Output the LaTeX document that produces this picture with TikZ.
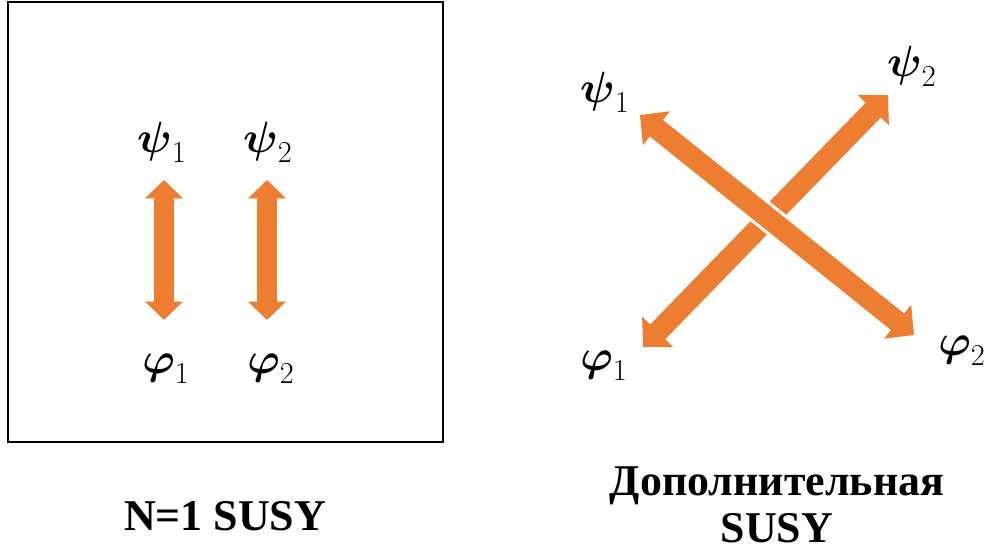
\documentclass[tikz,border=0pt]{standalone}
\usepackage{amsmath}
\usepackage{fontspec}
\setmainfont{Liberation Serif}
\usetikzlibrary{arrows.meta}
\definecolor{susyorange}{HTML}{ED7D31}

\begin{document}
\begin{tikzpicture}[x=0.02cm, y=-0.02cm,
		field/.style={font=\fontsize{25}{30}\selectfont},
		caption/.style={font=\fontsize{25}{27}\selectfont\bfseries, align=center},
		pair/.style={susyorange, line width=11pt,
			{Triangle[width=21pt,length=10.5pt]}-{Triangle[width=21pt,length=10.5pt]}},
		cross/.style={susyorange, line width=12pt,
			{Triangle[width=24pt,length=12pt]}-{Triangle[width=24pt,length=12pt]}}]
		\useasboundingbox (0, 0) rectangle (988, 550);

		% left panel: N=1
		\draw[black, line width=0.8pt] (8, 2) rectangle (443, 442);

		\node[field] (psiA) at (162, 142) {$\boldsymbol{\psi}_1$};
		\node[field] (psiB) at (268, 142) {$\boldsymbol{\psi}_2$};
		\node[field] (phiA) at (166, 369) {$\boldsymbol{\varphi}_1$};
		\node[field] (phiB) at (271, 369) {$\boldsymbol{\varphi}_2$};

		\coordinate (aTop) at (164, 180);
		\coordinate (aBot) at (164, 320);
		\coordinate (bTop) at (267, 180);
		\coordinate (bBot) at (267, 320);
		\draw[pair] (aTop) -- (aBot);
		\draw[pair] (bTop) -- (bBot);

		\node[caption] (capA) at (225, 516) {N=1 SUSY};

		% right panel: extra SUSY
		\node[field] (psiC) at (605, 92) {$\boldsymbol{\psi}_1$};
		\node[field] (psiD) at (912, 66) {$\boldsymbol{\psi}_2$};
		\node[field] (phiC) at (604, 366) {$\boldsymbol{\varphi}_1$};
		\node[field] (phiD) at (962, 351) {$\boldsymbol{\varphi}_2$};

		\coordinate (cTL) at (640, 115);
		\coordinate (cBR) at (914, 335);
		\coordinate (cBL) at (643, 347);
		\coordinate (cTR) at (888, 95);
		\draw[cross] (cBL) -- (cTR);
		\draw[white, line width=15.5pt, shorten >=2cm, shorten <=2cm] (cTL) -- (cBR);
		\draw[cross] (cTL) -- (cBR);

		\node[caption] (capB) at (777, 505) {Дополнительная\\SUSY};
	\end{tikzpicture}
\end{document}
